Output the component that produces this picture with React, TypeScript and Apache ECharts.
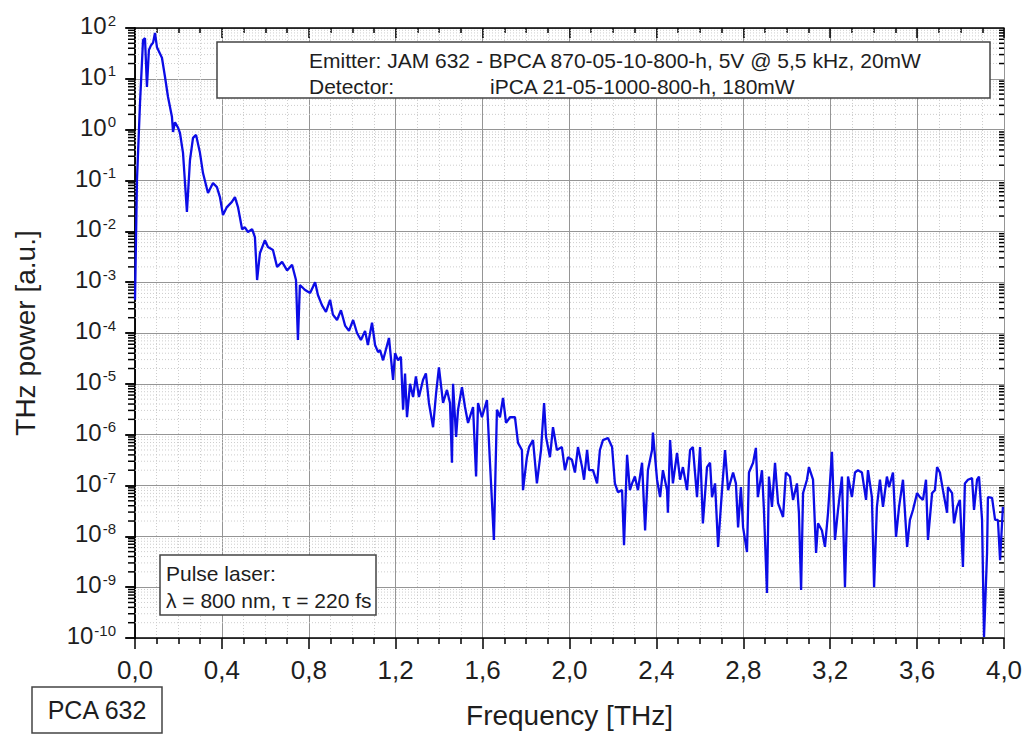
import React, { useEffect, useRef } from 'react';
import * as echarts from 'echarts';

// Frequency [THz]
const freq = [
  0.000,0.009,0.023,0.037,0.046,0.055,0.064,0.074,0.083,0.092,
  0.101,0.124,0.138,0.152,0.170,0.175,0.184,0.198,0.207,0.221,
  0.239,0.253,0.267,0.281,0.299,0.313,0.336,0.359,0.377,0.391,
  0.405,0.423,0.446,0.460,0.474,0.493,0.506,0.520,0.539,0.552,
  0.562,0.575,0.598,0.612,0.635,0.654,0.677,0.700,0.723,0.741,
  0.750,0.759,0.783,0.806,0.829,0.842,0.861,0.879,0.898,0.911,
  0.930,0.948,0.967,0.985,1.004,1.022,1.040,1.059,1.072,1.091,
  1.105,1.119,1.128,1.142,1.169,1.188,1.197,1.211,1.224,1.234,
  1.243,1.252,1.266,1.280,1.293,1.307,1.326,1.339,1.353,1.372,
  1.386,1.399,1.418,1.436,1.450,1.459,1.464,1.478,1.487,1.505,
  1.519,1.533,1.556,1.570,1.579,1.597,1.620,1.634,1.652,1.666,
  1.680,1.694,1.708,1.726,1.749,1.763,1.781,1.786,1.804,1.814,
  1.832,1.850,1.869,1.883,1.892,1.910,1.924,1.942,1.965,1.979,
  1.993,2.011,2.025,2.039,2.058,2.067,2.081,2.090,2.108,2.127,
  2.140,2.154,2.177,2.196,2.209,2.223,2.242,2.251,2.265,2.278,
  2.288,2.301,2.315,2.334,2.348,2.361,2.380,2.384,2.403,2.417,
  2.430,2.449,2.453,2.463,2.476,2.495,2.509,2.522,2.541,2.555,
  2.568,2.587,2.601,2.614,2.633,2.647,2.656,2.670,2.684,2.702,
  2.716,2.730,2.753,2.766,2.776,2.789,2.799,2.817,2.826,2.845,
  2.858,2.867,2.886,2.895,2.909,2.918,2.932,2.946,2.960,2.983,
  2.996,3.015,3.029,3.047,3.056,3.066,3.075,3.093,3.102,3.121,
  3.135,3.144,3.162,3.176,3.190,3.208,3.222,3.236,3.254,3.268,
  3.282,3.300,3.314,3.328,3.346,3.365,3.374,3.392,3.402,3.415,
  3.429,3.443,3.461,3.471,3.489,3.503,3.517,3.535,3.554,3.567,
  3.581,3.600,3.613,3.627,3.641,3.650,3.669,3.682,3.692,3.705,
  3.719,3.738,3.742,3.761,3.770,3.784,3.797,3.811,3.820,3.834,
  3.853,3.862,3.876,3.885,3.899,3.908,3.922,3.926,3.945,3.959,
  3.972,3.982,3.995
];

// THz power [a.u.]
const power = [
  4.5e-4,1.0e-1,3.3,58,63,6.9,37,46,51,80,
  42,26,11,4.4,1.8,0.90,1.4,1.1,0.86,0.35,
  0.024,0.25,0.69,0.79,0.35,0.14,0.057,0.089,0.074,0.047,
  0.021,0.030,0.038,0.047,0.030,0.011,0.012,0.0097,0.011,0.0077,
  0.0011,0.0037,0.0067,0.0049,0.0043,0.0020,0.0025,0.0017,0.0022,0.0011,
  7.3e-5,8.8e-4,7.0e-4,6.1e-4,1.0e-3,5.6e-4,3.5e-4,2.6e-4,4.5e-4,2.3e-4,
  1.8e-4,2.8e-4,1.4e-4,1.1e-4,1.8e-4,1.0e-4,7.3e-5,1.1e-4,5.8e-5,1.6e-4,
  5.8e-5,4.2e-5,4.6e-5,2.9e-5,8.0e-5,1.2e-5,4.0e-5,2.9e-5,3.4e-5,3.1e-6,
  1.6e-5,2.2e-6,1.0e-5,5.5e-6,1.4e-5,5.5e-6,1.2e-5,1.6e-5,4.2e-6,1.4e-6,
  6.6e-6,2.1e-5,4.2e-6,7.6e-6,4.2e-6,2.8e-7,1.0e-5,9.0e-7,3.1e-6,8.6e-6,
  3.5e-6,1.7e-6,3.5e-6,1.5e-7,4.2e-6,2.2e-6,4.8e-6,2.8e-7,8.5e-9,3.1e-6,
  2.2e-6,5.3e-6,1.7e-6,2.2e-6,2.2e-6,6.9e-7,5.0e-7,8.1e-8,3.6e-7,5.7e-7,
  7.8e-7,1.1e-7,5.0e-7,4.2e-6,9.0e-7,3.6e-7,1.4e-6,5.0e-7,5.7e-7,2.0e-7,
  3.6e-7,3.2e-7,1.8e-7,5.7e-7,2.3e-7,1.3e-7,5.0e-7,2.0e-7,2.0e-7,1.1e-7,
  5.0e-7,7.8e-7,8.6e-7,5.7e-7,1.1e-7,7.4e-8,8.1e-8,6.7e-9,4.0e-7,8.1e-8,
  1.1e-7,1.5e-7,8.1e-8,2.8e-7,1.3e-8,2.0e-7,5.0e-7,1.1e-6,1.3e-7,5.9e-8,
  2.0e-7,8.1e-8,2.9e-8,7.8e-7,1.1e-7,4.4e-7,1.3e-7,2.3e-7,8.1e-8,5.0e-7,
  5.7e-7,5.9e-8,5.7e-7,1.8e-8,2.3e-7,2.8e-7,5.9e-8,1.1e-7,6.2e-9,8.1e-8,
  5.0e-7,8.1e-8,1.8e-7,1.1e-7,1.5e-8,9.3e-8,1.5e-8,4.9e-9,1.8e-7,2.8e-7,
  5.5e-7,5.9e-8,2.0e-7,3.3e-8,7.7e-10,1.5e-7,3.8e-8,2.8e-7,4.5e-8,2.4e-8,
  1.8e-7,1.5e-7,5.2e-8,1.1e-7,2.9e-8,8.8e-10,7.1e-8,1.3e-7,2.3e-7,1.3e-7,
  4.7e-9,1.8e-8,1.3e-8,6.2e-9,2.9e-8,4.6e-7,8.5e-9,3.3e-8,1.5e-7,1.0e-9,
  1.5e-7,5.9e-8,1.8e-7,2.0e-7,1.8e-7,5.2e-8,2.0e-7,5.9e-8,1.0e-9,3.8e-8,
  1.3e-7,3.8e-8,1.5e-7,9.3e-8,1.8e-7,9.7e-9,3.8e-8,1.3e-7,6.2e-9,2.1e-8,
  3.3e-8,7.1e-8,5.9e-8,5.2e-8,1.3e-7,8.5e-9,7.1e-8,8.1e-8,2.3e-7,1.8e-7,
  8.1e-8,2.9e-8,9.3e-8,7.1e-8,1.8e-8,3.8e-8,5.2e-8,2.5e-9,1.1e-7,1.3e-7,
  1.4e-7,3.3e-8,1.3e-7,1.5e-7,2.1e-8,1.05e-10,4.7e-9,5.9e-8,5.7e-8,2.1e-8,
  2.1e-8,3.4e-9,3.8e-8
];

const xTicks = { min: 0, max: 4, step: 0.4 };
const yDecades = [-10, -9, -8, -7, -6, -5, -4, -3, -2, -1, 0, 1];
const yMinorMultipliers = [2, 3, 4, 5, 6, 7, 8, 9];

const FONT = '"Liberation Sans", Arial, Helvetica, sans-serif';
const TXT = '#1e1e1e';

export default function App() {
  const ref = useRef<HTMLDivElement>(null);
  useEffect(() => {
    const chart = echarts.init(ref.current as HTMLDivElement, null, { renderer: 'svg' });
    const minorVals: number[][] = [];
    yDecades.forEach((d) => yMinorMultipliers.forEach((m) => minorVals.push([0, m * Math.pow(10, d)])));
    const seriesData = freq.map((f, i) => [f, power[i]]);

    const axisLine = { show: true, lineStyle: { color: '#000', width: 1.5 } };
    const option: any = {
      animation: false,
      backgroundColor: '#fff',
      grid: { left: 135, top: 28, width: 869, height: 610 },
      xAxis: [
        {
          type: 'value', min: xTicks.min, max: xTicks.max, interval: xTicks.step, position: 'bottom',
          axisLine,
          axisTick: { show: true, length: 11, lineStyle: { color: '#000', width: 1.5 } },
          minorTick: { show: true, splitNumber: 4, length: 6, lineStyle: { color: '#000', width: 1.5 } },
          splitLine: { show: true, lineStyle: { color: '#959595', width: 1 } },
          minorSplitLine: { show: true, lineStyle: { color: '#cdcdcd', width: 1, type: [1, 2] } },
          axisLabel: {
            formatter: (v: number) => v.toFixed(1).replace('.', ','),
            fontSize: 26, color: TXT, fontFamily: FONT, margin: 19,
          },
          name: 'Frequency [THz]', nameLocation: 'middle', nameGap: 63,
          nameTextStyle: { fontSize: 28, color: TXT, fontFamily: FONT },
        },
        {
          type: 'value', min: xTicks.min, max: xTicks.max, interval: xTicks.step, position: 'top',
          axisLine,
          axisTick: { show: true, inside: true, length: 10, lineStyle: { color: '#000', width: 1.5 } },
          minorTick: { show: true, splitNumber: 4, length: 5, lineStyle: { color: '#000', width: 1.5 } },
          splitLine: { show: false },
          axisLabel: { show: false },
        },
      ],
      yAxis: [
        {
          type: 'log', logBase: 10, min: 1e-10, max: 100, interval: 1, position: 'left',
          axisLine,
          axisTick: { show: true, length: 10, lineStyle: { color: '#000', width: 1.5 } },
          splitLine: { show: true, lineStyle: { color: '#959595', width: 1 } },
          axisLabel: {
            margin: 19,
            padding: [0, 0, 6, 0],
            formatter: (v: number) => `{b|10}{s|${Math.round(Math.log10(v))}}`,
            rich: {
              b: { fontSize: 24, lineHeight: 25, padding: [6, 0, 0, 0], verticalAlign: 'bottom', color: TXT, fontFamily: FONT },
              s: { fontSize: 15, lineHeight: 15, padding: [0, 0, 0, 1], verticalAlign: 'top', color: TXT, fontFamily: FONT },
            },
          },
          name: 'THz power [a.u.]', nameLocation: 'middle', nameGap: 96,
          nameTextStyle: { fontSize: 28, color: TXT, fontFamily: FONT },
        },
        {
          type: 'log', logBase: 10, min: 1e-10, max: 100, interval: 1, position: 'right',
          axisLine,
          axisTick: { show: true, inside: true, length: 9, lineStyle: { color: '#000', width: 1.5 } },
          splitLine: { show: false },
          axisLabel: { show: false },
        },
      ],
      series: [
        {
          type: 'custom',
          xAxisIndex: 0, yAxisIndex: 0,
          data: minorVals,
          silent: true,
          z: 1,
          clip: false,
          encode: { x: 0, y: 1 },
          renderItem: (params: any, api: any) => {
            const v = api.value(1);
            const pL = api.coord([xTicks.min, v]);
            const pR = api.coord([xTicks.max, v]);
            return {
              type: 'group',
              children: [
                { type: 'line', shape: { x1: pL[0], y1: pL[1], x2: pR[0], y2: pR[1] }, style: { stroke: '#cdcdcd', lineWidth: 1, lineDash: [1, 2] } },
                { type: 'line', shape: { x1: pL[0] - 7, y1: pL[1], x2: pL[0], y2: pL[1] }, style: { stroke: '#000', lineWidth: 1.5 } },
                { type: 'line', shape: { x1: pR[0] - 5, y1: pR[1], x2: pR[0], y2: pR[1] }, style: { stroke: '#000', lineWidth: 1.5 } },
              ],
            };
          },
        },
        {
          type: 'line',
          xAxisIndex: 0, yAxisIndex: 0,
          data: seriesData,
          showSymbol: false,
          symbol: 'none',
          z: 5,
          lineStyle: { color: '#0c0ce6', width: 2.3 },
        },
      ],
      graphic: [
        { type: 'rect', z: 100, shape: { x: 217, y: 42, width: 773, height: 56 }, style: { fill: '#fff', stroke: '#444', lineWidth: 1.5 } },
        { type: 'text', z: 101, x: 309, y: 60, style: { text: 'Emitter: JAM 632 - BPCA 870-05-10-800-h, 5V @ 5,5 kHz, 20mW', fill: TXT, fontSize: 21, fontFamily: FONT, align: 'left', verticalAlign: 'middle' } },
        { type: 'text', z: 101, x: 309, y: 86, style: { text: 'Detector:', fill: TXT, fontSize: 21, fontFamily: FONT, align: 'left', verticalAlign: 'middle' } },
        { type: 'text', z: 101, x: 490, y: 86, style: { text: 'iPCA 21-05-1000-800-h, 180mW', fill: TXT, fontSize: 21, fontFamily: FONT, align: 'left', verticalAlign: 'middle' } },
        { type: 'rect', z: 100, shape: { x: 160, y: 555, width: 216, height: 60 }, style: { fill: '#fff', stroke: '#444', lineWidth: 1.5 } },
        { type: 'text', z: 101, x: 166, y: 573, style: { text: 'Pulse laser:', fill: TXT, fontSize: 21, fontFamily: FONT, align: 'left', verticalAlign: 'middle' } },
        { type: 'text', z: 101, x: 166, y: 600, style: { text: 'λ = 800 nm, τ = 220 fs', fill: TXT, fontSize: 21, fontFamily: FONT, align: 'left', verticalAlign: 'middle' } },
        { type: 'rect', z: 100, shape: { x: 32, y: 687, width: 130, height: 46 }, style: { fill: '#fff', stroke: '#444', lineWidth: 1.5 } },
        { type: 'text', z: 101, x: 97, y: 710, style: { text: 'PCA 632', fill: TXT, fontSize: 25, fontFamily: FONT, align: 'center', verticalAlign: 'middle' } },
      ],
    };
    chart.setOption(option);
    return () => chart.dispose();
  }, []);
  return (
    <div
      ref={ref}
      style={{ position: 'fixed', left: 0, top: 0, width: 1027, height: 735, background: '#fff' }}
    />
  );
}
